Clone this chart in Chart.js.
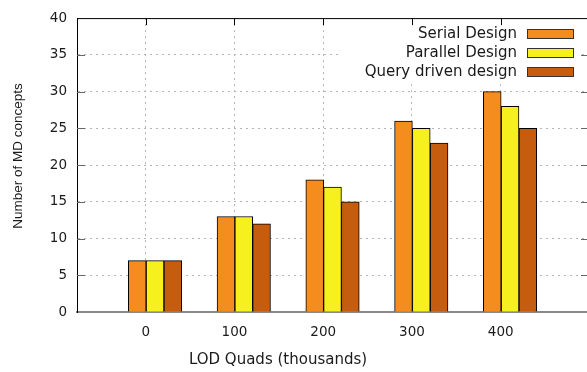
<!DOCTYPE html>
<html>
<head>
<meta charset="utf-8">
<script src="https://cdn.jsdelivr.net/npm/chart.js@4.4.0/dist/chart.umd.min.js"></script>
<style>
  html, body { margin: 0; padding: 0; background: #fff; }
</style>
</head>
<body>
<canvas id="chart" width="587" height="372"></canvas>
<script>
// Data
const categories = ['0', '100', '200', '300', '400'];
const seriesLabels = ['Serial Design', 'Parallel Design', 'Query driven design'];
const serialDesign = [7, 13, 18, 26, 30];
const parallelDesign = [7, 13, 17, 25, 28];
const queryDrivenDesign = [7, 12, 15, 23, 25];
const yTicks = [0, 5, 10, 15, 20, 25, 30, 35, 40];
const xTitle = 'LOD Quads (thousands)';
const yTitle = 'Number of MD concepts';

// Styling
const FONT = 'DejaVu Sans';
const TEXT = '#1a1a1a';
const colors = ['#f58c1e', '#f5f01e', '#c55c0e'];
const GROUP_SHIFT = 0.105; // gnuplot puts the group half a bar right of the tick

function toPoints(values) {
  return values.map((v, i) => ({ x: i + GROUP_SHIFT, y: v }));
}

// Top border, inward tick marks and both axis titles
const framePlugin = {
  id: 'frame',
  afterDraw(chart) {
    const { ctx, chartArea: a, scales } = chart;
    ctx.save();
    ctx.strokeStyle = '#000';
    ctx.lineWidth = 1;
    ctx.beginPath();
    ctx.moveTo(a.left, a.top + 0.5);
    ctx.lineTo(a.right, a.top + 0.5);
    ctx.stroke();

    ctx.strokeStyle = '#666';
    ctx.beginPath();
    yTicks.slice(1, -1).forEach(v => {
      const y = Math.round(scales.y.getPixelForValue(v)) + 0.5;
      ctx.moveTo(a.left, y); ctx.lineTo(a.left + 8, y);
      ctx.moveTo(a.right, y); ctx.lineTo(a.right - 6, y);
    });
    ctx.stroke();

    ctx.strokeStyle = '#000';
    ctx.beginPath();
    categories.forEach((c, i) => {
      const x = Math.round(scales.x.getPixelForValue(i)) + 0.5;
      ctx.moveTo(x, a.top); ctx.lineTo(x, a.top + 7);
    });
    ctx.stroke();

    ctx.fillStyle = TEXT;
    ctx.font = '15px "' + FONT + '"';
    ctx.textAlign = 'center';
    ctx.textBaseline = 'middle';
    ctx.fillText(xTitle, 278, 360);

    // gnuplot centred the y label on the uncropped plot, not the chart area
    ctx.translate(18.5, 156);
    ctx.rotate(-Math.PI / 2);
    ctx.font = '13.5px "Liberation Sans"';
    ctx.fillText(yTitle, 0, 0);
    ctx.restore();
  }
};

// gnuplot style key: text on the left, swatch on the right
const keyPlugin = {
  id: 'key',
  afterDatasetsDraw(chart) {
    const { ctx } = chart;
    ctx.save();
    ctx.fillStyle = '#fff';
    ctx.fillRect(340, 19, 240, 63);
    ctx.font = '15px "' + FONT + '"';
    ctx.textAlign = 'right';
    ctx.textBaseline = 'middle';
    chart.data.datasets.forEach((ds, i) => {
      const y = 34 + i * 19;
      ctx.fillStyle = TEXT;
      ctx.fillText(ds.label, 517, y);
      ctx.fillStyle = ds.backgroundColor;
      ctx.fillRect(527, y - 4, 46, 8);
      ctx.strokeStyle = '#333';
      ctx.lineWidth = 1;
      ctx.strokeRect(527.5, y - 4.5, 46, 9);
    });
    ctx.restore();
  }
};

const ctx = document.getElementById('chart').getContext('2d');
new Chart(ctx, {
  type: 'bar',
  data: {
    datasets: [serialDesign, parallelDesign, queryDrivenDesign].map((vals, i) => ({
      label: seriesLabels[i],
      data: toPoints(vals),
      backgroundColor: colors[i],
      borderColor: '#000',
      borderWidth: 1,
      barThickness: 17.8
    }))
  },
  options: {
    responsive: false,
    animation: false,
    layout: { padding: { top: 17, right: 0, left: 0, bottom: 0 } },
    plugins: {
      legend: { display: false },
      tooltip: { enabled: false }
    },
    scales: {
      x: {
        type: 'linear',
        offset: false,
        min: -0.774,
        max: 4.972,
        afterBuildTicks: axis => { axis.ticks = categories.map((c, i) => ({ value: i })); },
        afterFit: axis => { axis.height = 60; },
        ticks: {
          padding: 12,
          color: TEXT,
          font: { family: FONT, size: 13.5 },
          maxRotation: 0,
          callback: (value, index) => categories[index]
        },
        grid: { color: '#b4b4b4', drawTicks: false, offset: false },
        border: { color: '#888', width: 2, dash: [2, 4] }
      },
      y: {
        min: 0,
        max: 40,
        afterBuildTicks: axis => { axis.ticks = yTicks.map(v => ({ value: v })); },
        afterFit: axis => { axis.width = 77; },
        ticks: {
          padding: 10,
          color: TEXT,
          font: { family: FONT, size: 13.5 }
        },
        grid: {
          color: c => (c.tick && (c.tick.value === 0 || c.tick.value === 40)) ? 'rgba(0,0,0,0)' : '#b4b4b4',
          drawTicks: false
        },
        border: { color: '#000', width: 1, dash: [2, 4] }
      }
    }
  },
  plugins: [framePlugin, keyPlugin]
});
</script>
</body>
</html>
